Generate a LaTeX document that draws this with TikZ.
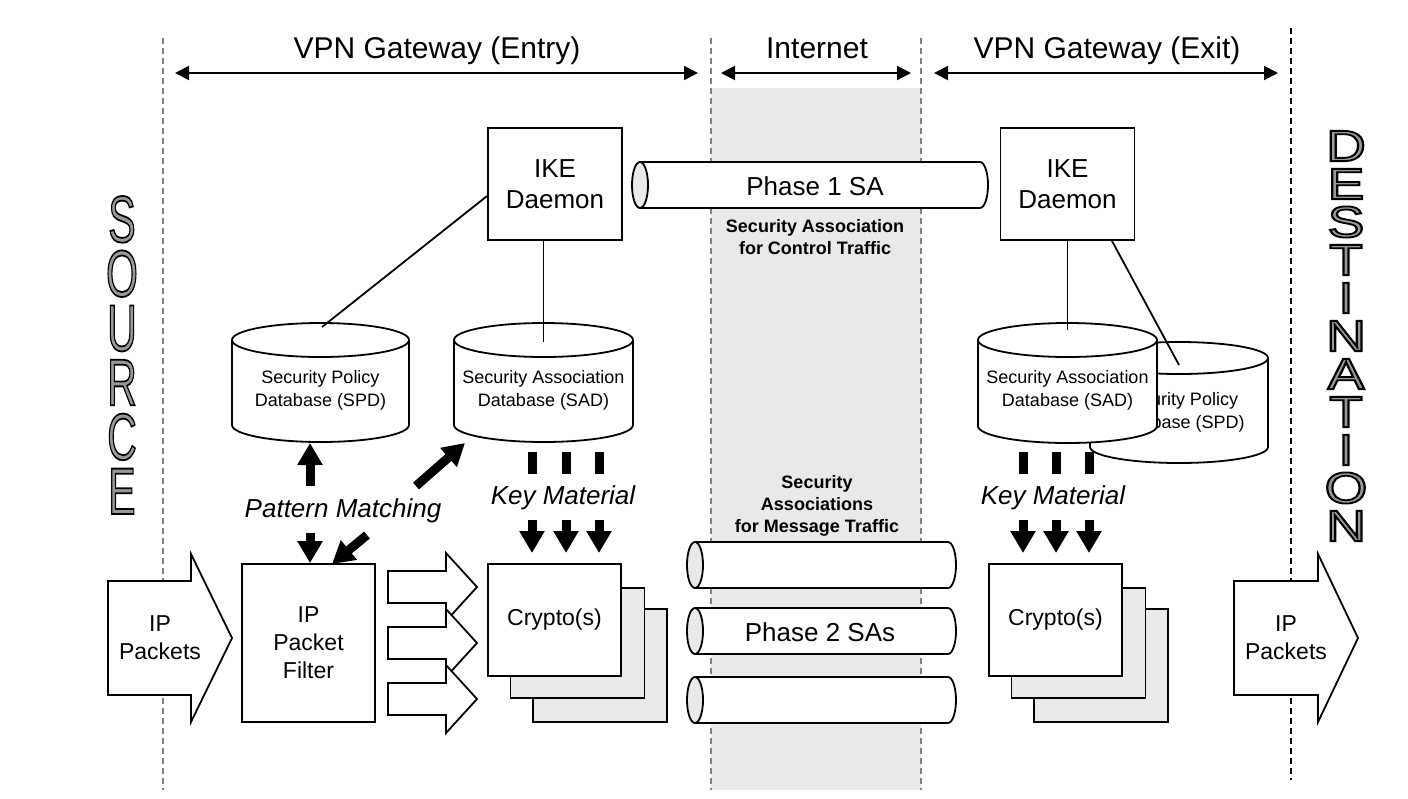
\documentclass[tikz,border=0pt]{standalone}
\usepackage{fontspec}
\setmainfont{Liberation Sans}
\usepackage{graphicx}
\usetikzlibrary{arrows.meta}
% outlined letters: grey fill, black stroke
\newcommand{\outl}[1]{\special{pdf:literal direct 0 G 2 Tr 0.9 w}#1\special{pdf:literal direct 0 Tr}}

\begin{document}
\begin{tikzpicture}[x=0.5pt, y=-0.5pt, line width=0.9pt,
	every node/.style={inner sep=0pt, align=center},
	vline/.style={line width=0.7pt, dash pattern=on 3pt off 2pt, gray},
	span/.style={{Triangle[length=7pt,width=7pt]}-{Triangle[length=7pt,width=7pt]}, line width=1pt},
	hdr/.style={anchor=base, font=\fontsize{15}{18}\selectfont},
	ikebox/.style={draw, fill=white, minimum width=67pt, minimum height=56pt, font=\fontsize{13}{15.5}\selectfont},
	dbtext/.style={font=\fontsize{9}{11.5}\selectfont},
	satext/.style={font=\fontsize{9}{11}\selectfont\bfseries},
	itl/.style={font=\fontsize{13}{15}\selectfont\itshape},
	body/.style={font=\fontsize{11.5}{14}\selectfont},
	fat/.style={line width=4.5pt, -{Triangle[width=12pt,length=11pt]}},
	bar/.style={line width=4.5pt},
	back/.style={draw, fill=gray!17},
	sidetext/.style={text=black!40}]
	\useasboundingbox (0,0) rectangle (1408,798);
	%%% Internet
	\fill[gray!17] (711,88) rectangle (921,790);
	\draw[vline] (163,38) -- (163,790);
	\draw[vline] (711,38) -- (711,790);
	\draw[vline] (921,38) -- (921,790);
	\draw[vline, black] (1291,28) -- (1291,780);
	%%% Headers
	\node[hdr] (entry) at (437,58) {VPN Gateway (Entry)};
	\node[hdr] (inet) at (817,58) {Internet};
	\node[hdr] (exit) at (1107,58) {VPN Gateway (Exit)};
	\draw[span] (175,73) -- (698,73);
	\draw[span] (721,73) -- (911,73);
	\draw[span] (934,73) -- (1278,73);
	%%% IKE
	\node[ikebox] (ikeL) at (555,184) {IKE\\Daemon};
	\node[ikebox] (ikeR) at (1067.5,184) {IKE\\Daemon};
	\draw[fill=white] (640,162) -- (980,162) arc[start angle=-90, end angle=90, x radius=8, y radius=23] -- (640,208) -- cycle;
	\draw[fill=gray!17] (640,185) ellipse [x radius=8, y radius=23];
	\node[font=\fontsize{13}{15}\selectfont] (ph1) at (815,186) {Phase 1 SA};
	\node[satext] (sactl) at (815,237) {Security Association\\for Control Traffic};
	%%% Databases
	\foreach \cx/\rx/\yt/\yb/\ry/\nm/\ty/\txt in {
		320.5/88.5/340/425/17/spdL/390/{Security Policy\\Database (SPD)},
		543.5/89.5/340/425/17/sadL/390/{Security Association\\Database (SAD)},
		1179/89/358/447/16/spdR/412/{Security Policy\\Database (SPD)},
		1067.5/89.5/340/426/17/sadR/390/{Security Association\\Database (SAD)}}
	{
		\draw[fill=white] (\cx-\rx,\yt) -- (\cx-\rx,\yb) arc[start angle=180, end angle=0, x radius=\rx, y radius=\ry] -- (\cx+\rx,\yt);
		\draw[fill=white] (\cx,\yt) ellipse [x radius=\rx, y radius=\ry];
		\node[dbtext] (\nm) at (\cx,\ty) {\txt};
	}
	\coordinate (spdLtop) at (322,327);
	\coordinate (sadLtop) at (543.5,342);
	\coordinate (sadRtop) at (1067.5,330);
	\coordinate (spdRtop) at (1179,365);
	\draw (ikeL.190) -- (spdLtop);
	\draw (ikeL.south -| sadLtop) -- (sadLtop);
	\draw (ikeR.south -| sadRtop) -- (sadRtop);
	\draw (ikeR.308) -- (spdRtop);
	%%% Pattern matching
	\node[itl] (pm) at (343,511) {Pattern Matching};
	\draw[fat] (310,486) -- (310,443);
	\draw[fat] (416,486) -- (465,443);
	%%% Key material
	\node[itl] (kmL) at (563,498) {Key Material};
	\node[itl] (kmR) at (1053,498) {Key Material};
	\foreach \x in {532,566,599,1023,1056,1089} {
		\draw[bar] (\x,452) -- (\x,474);
		\draw[fat] (\x,520) -- (\x,553);
	}
	%%% Phase 2
	\node[satext] (samsg) at (817,506) {Security\\Associations\\for Message Traffic};
	\foreach \y in {565,631,700} {
		\draw[fill=white] (695,\y-23) -- (948,\y-23) arc[start angle=-90, end angle=90, x radius=8, y radius=23] -- (695,\y+23) -- cycle;
		\draw[fill=gray!17] (695,\y) ellipse [x radius=8, y radius=23];
	}
	\node[font=\fontsize{13}{15}\selectfont] (ph2) at (820,632) {Phase 2 SAs};
	%%% Packets
	\draw[fill=white] (108,581) -- (191,581) -- (191,554) -- (232,638) -- (191,722) -- (191,695) -- (108,695) -- cycle;
	\node[body] (ipIn) at (160,638) {IP\\Packets};
	\draw[fill=white] (1234,581) -- (1318,581) -- (1318,554) -- (1358,638) -- (1318,722) -- (1318,695) -- (1234,695) -- cycle;
	\node[body] (ipOut) at (1286,638) {IP\\Packets};
	\node[draw, fill=white, minimum width=66.5pt, minimum height=79pt, body] (filter) at (308.5,643) {IP\\Packet\\Filter};
	\draw[fat] (310,533) -- (filter.north -| 310,0);
	\draw[fat] (367,535) -- (332,564);
	\foreach \y in {587,643,699}
		\draw[fill=white] (388,\y-16) -- (446,\y-16) -- (446,\y-34) -- (477,\y) -- (446,\y+34) -- (446,\y+16) -- (388,\y+16) -- cycle;
	%%% Cryptos
	\foreach \x/\nm in {554.5/cryL, 1055.5/cryR} {
		\draw[back] (\x-21.5,609) rectangle +(134,113);
		\draw[back] (\x-44,588) rectangle +(134,110);
		\node[draw, fill=white, minimum width=66.5pt, minimum height=56pt, body] (\nm) at (\x,620) {Crypto(s)};
	}
	%%% Source / Destination
	\node[sidetext] (src) at (122,355) {\scalebox{0.62}[1]{\parbox{32pt}{\fontsize{33}{27.2}\selectfont\centering
		\outl{S\\O\\U\\R\\C\\E}}}};
	\node[sidetext] (dst) at (1346,336) {\scalebox{1.25}[1]{\parbox{22pt}{\fontsize{22}{19}\selectfont\centering
		\outl{D\\E\\S\\T\\I\\N\\A\\T\\I\\O\\N}}}};
\end{tikzpicture}
\end{document}
